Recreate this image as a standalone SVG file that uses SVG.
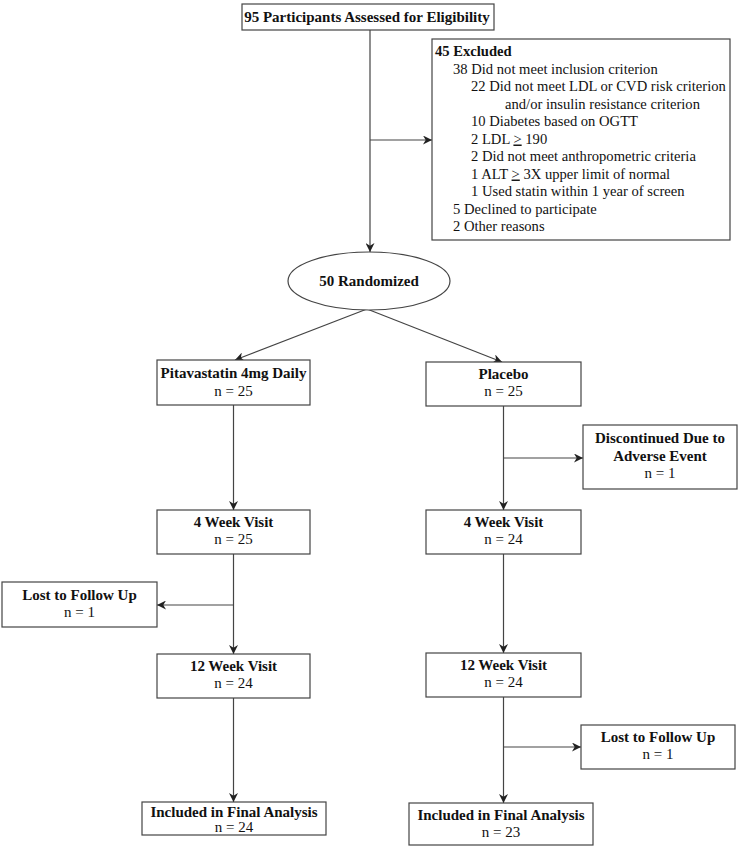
<svg xmlns="http://www.w3.org/2000/svg" width="739" height="847" viewBox="0 0 739 847">
<style>
.box{fill:#fff;stroke:#444;stroke-width:1.2}
.ln{fill:none;stroke:#444;stroke-width:1.2}
text{font-family:"Liberation Serif","Times New Roman",serif;font-size:15px;fill:#111}
.b{font-weight:bold}
.c{text-anchor:middle}
.ex{font-size:14.6px}
</style>
<defs>
<marker id="ah" viewBox="0 0 10 10" refX="10" refY="5" markerWidth="9" markerHeight="9" markerUnits="userSpaceOnUse" orient="auto">
<path d="M0,0 L10,5 L0,10 L3,5 Z" fill="#222"/>
</marker>
</defs>
<g id="connectors">
<line class="ln" x1="370" y1="30" x2="370" y2="252" marker-end="url(#ah)"/>
<line class="ln" x1="370" y1="140" x2="432" y2="140" marker-end="url(#ah)"/>
<line class="ln" x1="367" y1="309" x2="235" y2="360" marker-end="url(#ah)"/>
<line class="ln" x1="367" y1="309" x2="502" y2="362" marker-end="url(#ah)"/>
<line class="ln" x1="233.5" y1="405" x2="233.5" y2="510" marker-end="url(#ah)"/>
<line class="ln" x1="233.5" y1="554" x2="233.5" y2="654" marker-end="url(#ah)"/>
<line class="ln" x1="233.5" y1="605" x2="157" y2="605" marker-end="url(#ah)"/>
<line class="ln" x1="233.5" y1="698" x2="233.5" y2="802" marker-end="url(#ah)"/>
<line class="ln" x1="503.5" y1="406" x2="503.5" y2="510" marker-end="url(#ah)"/>
<line class="ln" x1="503.5" y1="458" x2="583" y2="458" marker-end="url(#ah)"/>
<line class="ln" x1="503.5" y1="554" x2="503.5" y2="653" marker-end="url(#ah)"/>
<line class="ln" x1="503.5" y1="697" x2="503.5" y2="803" marker-end="url(#ah)"/>
<line class="ln" x1="503.5" y1="747" x2="581" y2="747" marker-end="url(#ah)"/>
</g>
<g id="assessed">
<rect class="box" x="242" y="4" width="252" height="26"/>
<text class="b c" x="367" y="22">95 Participants Assessed for Eligibility</text>
</g>
<g id="excluded" class="ex">
<rect class="box" x="432" y="39" width="298" height="201"/>
<text class="b ex" x="435" y="56">45 Excluded</text>
<text class="ex" x="453" y="73.5">38 Did not meet inclusion criterion</text>
<text class="ex" x="471" y="91">22 Did not meet LDL or CVD risk criterion</text>
<text class="ex" x="505" y="108.5">and/or insulin resistance criterion</text>
<text class="ex" x="471" y="126">10 Diabetes based on OGTT</text>
<text class="ex" x="471" y="143.5">2 LDL <tspan text-decoration="underline">&gt;</tspan> 190</text>
<text class="ex" x="471" y="161">2 Did not meet anthropometric criteria</text>
<text class="ex" x="471" y="178.5">1 ALT <tspan text-decoration="underline">&gt;</tspan> 3X upper limit of normal</text>
<text class="ex" x="471" y="196">1 Used statin within 1 year of screen</text>
<text class="ex" x="453" y="213.5">5 Declined to participate</text>
<text class="ex" x="453" y="231">2 Other reasons</text>
</g>
<g id="randomized">
<ellipse class="box" cx="369" cy="281" rx="81" ry="29"/>
<text class="b c" x="369" y="286">50 Randomized</text>
</g>
<g id="pitavastatin">
<rect class="box" x="157" y="360" width="153" height="45"/>
<text class="b c" x="233.5" y="378">Pitavastatin 4mg Daily</text>
<text class="c" x="233.5" y="396">n = 25</text>
</g>
<g id="placebo">
<rect class="box" x="426" y="362" width="155" height="44"/>
<text class="b c" x="503.5" y="379">Placebo</text>
<text class="c" x="503.5" y="396">n = 25</text>
</g>
<g id="discontinued">
<rect class="box" x="583" y="425" width="154" height="64"/>
<text class="b c" x="660" y="443">Discontinued Due to</text>
<text class="b c" x="660" y="461">Adverse Event</text>
<text class="c" x="660" y="478">n = 1</text>
</g>
<g id="week4-left">
<rect class="box" x="157" y="510" width="153" height="44"/>
<text class="b c" x="233.5" y="527">4 Week Visit</text>
<text class="c" x="233.5" y="544">n = 25</text>
</g>
<g id="week4-right">
<rect class="box" x="426" y="510" width="155" height="44"/>
<text class="b c" x="503.5" y="527">4 Week Visit</text>
<text class="c" x="503.5" y="544">n = 24</text>
</g>
<g id="lost-left">
<rect class="box" x="2" y="582" width="155" height="45"/>
<text class="b c" x="79.5" y="600">Lost to Follow Up</text>
<text class="c" x="79.5" y="617">n = 1</text>
</g>
<g id="week12-left">
<rect class="box" x="157" y="654" width="153" height="44"/>
<text class="b c" x="233.5" y="671">12 Week Visit</text>
<text class="c" x="233.5" y="688">n = 24</text>
</g>
<g id="week12-right">
<rect class="box" x="426" y="653" width="155" height="44"/>
<text class="b c" x="503.5" y="670">12 Week Visit</text>
<text class="c" x="503.5" y="687">n = 24</text>
</g>
<g id="lost-right">
<rect class="box" x="581" y="725" width="154" height="44"/>
<text class="b c" x="658" y="742">Lost to Follow Up</text>
<text class="c" x="658" y="759">n = 1</text>
</g>
<g id="final-left">
<rect class="box" x="142" y="802" width="184" height="33"/>
<text class="b c" x="234" y="817">Included in Final Analysis</text>
<text class="c" x="234" y="832">n = 24</text>
</g>
<g id="final-right">
<rect class="box" x="409" y="803" width="184" height="42"/>
<text class="b c" x="501" y="820">Included in Final Analysis</text>
<text class="c" x="501" y="837">n = 23</text>
</g>
</svg>
